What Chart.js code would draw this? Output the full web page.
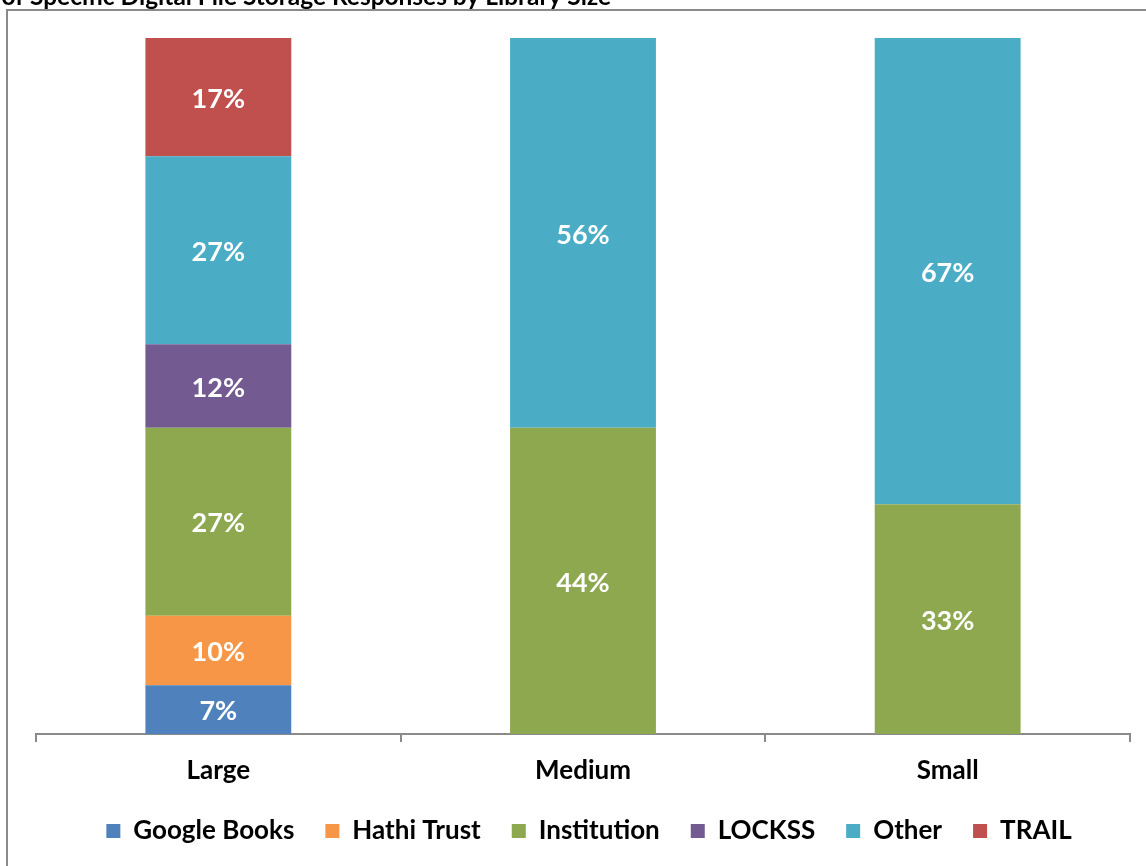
<!DOCTYPE html>
<html><head><meta charset="utf-8">
<script src="https://cdn.jsdelivr.net/npm/chart.js@4/dist/chart.umd.min.js"></script>
<style>html,body{margin:0;padding:0;background:#fff;}canvas{display:block}</style></head>
<body><canvas id="c" width="1146" height="866"></canvas>
<script>
const titleText = "Breakdown of Specific Digital File Storage Responses by Library Size";
const categories = ["Large", "Medium", "Small"];
const seriesNames = ["Google Books", "Hathi Trust", "Institution", "LOCKSS", "Other", "TRAIL"];
const googleBooks = [7, null, null];
const hathiTrust = [10, null, null];
const institution = [27, 44, 33];
const lockss = [12, null, null];
const other = [27, 56, 67];
const trail = [17, null, null];
const seriesColors = ["#4F81BD", "#F79646", "#8DA84F", "#735A90", "#4BACC6", "#C0504D"];
const seriesValues = [googleBooks, hathiTrust, institution, lockss, other, trail];

const FONT = "Lato";

const framePlugin = {
  id: 'frame',
  beforeDraw(chart) {
    const ctx = chart.ctx;
    if (chart.legend && !chart.$legendShifted) {
      chart.legend.left += 6;
      chart.legend.right += 6;
      chart.$legendShifted = true;
    }
    ctx.save();
    ctx.fillStyle = '#fff';
    ctx.fillRect(0, 0, chart.width, chart.height);
    ctx.strokeStyle = '#8a8a8a';
    ctx.lineWidth = 2;
    ctx.strokeRect(7, 10, 1300, 1000);
    ctx.fillStyle = '#000';
    ctx.font = 'bold 20px ' + FONT;
    const w = ctx.measureText("Specific Digital File Storage Responses by Library Size").width;
    const size = 20 * 581 / w;
    ctx.font = 'bold ' + size.toFixed(2) + 'px ' + FONT;
    ctx.textAlign = 'right';
    ctx.textBaseline = 'alphabetic';
    ctx.fillText(titleText, 611, 5);
    ctx.restore();
  }
};

const labelPlugin = {
  id: 'segLabels',
  afterDatasetsDraw(chart) {
    const ctx = chart.ctx;
    ctx.save();
    ctx.fillStyle = '#fff';
    ctx.font = 'bold 27px ' + FONT;
    ctx.textAlign = 'center';
    ctx.textBaseline = 'middle';
    chart.data.datasets.forEach((ds, i) => {
      const meta = chart.getDatasetMeta(i);
      meta.data.forEach((el, j) => {
        const v = ds.data[j];
        if (v === null || v === undefined) return;
        ctx.fillText(v + '%', el.x, (el.y + el.base) / 2 + 2);
      });
    });
    ctx.restore();
  }
};

new Chart(document.getElementById('c'), {
  type: 'bar',
  data: {
    labels: categories,
    datasets: seriesNames.map((n, i) => ({
      label: n,
      data: seriesValues[i],
      backgroundColor: seriesColors[i],
      borderWidth: 0,
      categoryPercentage: 1.0,
      barPercentage: 0.4
    }))
  },
  options: {
    responsive: false,
    animation: false,
    layout: { padding: { top: 38, left: 36, right: 16, bottom: 12 } },
    scales: {
      x: {
        stacked: true,
        afterFit(scale) { scale.height = 53; },
        grid: { display: true, drawOnChartArea: false, drawTicks: true, tickLength: 8, color: '#8a8a8a', lineWidth: 2, offset: true },
        border: { display: true, color: '#8a8a8a', width: 2 },
        ticks: { color: '#000', font: { family: FONT, size: 26, weight: 'bold' }, padding: 13 }
      },
      y: { stacked: true, display: false, min: 0, max: 100 }
    },
    plugins: {
      legend: {
        position: 'bottom',
        labels: { boxWidth: 14, boxHeight: 14, color: '#000', padding: 31, font: { family: FONT, size: 26, weight: 'bold' } }
      },
      tooltip: { enabled: false }
    }
  },
  plugins: [framePlugin, labelPlugin]
});
</script>
</body></html>
